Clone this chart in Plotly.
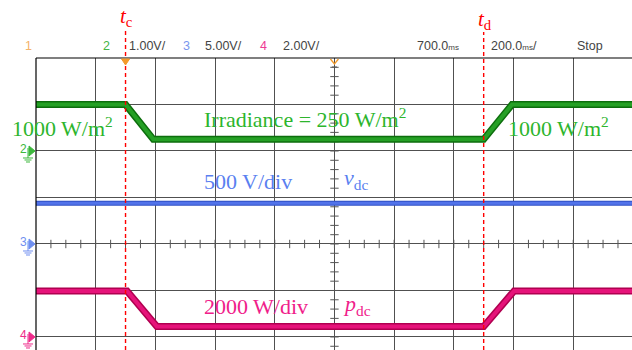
import plotly.graph_objects as go
import numpy as np

# ---------------- data (read from the scope capture) ----------------
t_irr = [0, 300, 393, 1500, 1595, 1997]          # ms
irr = [1000, 1000, 250, 250, 1000, 1000]          # W/m^2  (ch2, 1000 W/m^2 per div)
t_vdc = [0, 360, 380, 1545, 1565, 1997]           # ms
vdc = [438, 438, 430, 430, 438, 438]              # V      (ch3, 500 V/div)
t_pdc = [0, 305, 405, 1500, 1602, 1997]           # ms
pdc = [1980, 1980, 450, 450, 1980, 1980]          # W      (ch4, 2000 W/div)
tc, td = 300, 1500                                # event times, ms

W, H = 632, 350
ML, MT = 36, 58
PW, PH = W - ML, H - MT
XR = [0, 1997]
YR = [1.72, 8.0]          # screen in divisions (0 = bottom of scope screen)
G2, G3, G4 = 6, 4, 2      # channel ground levels (divisions)
S2, S3, S4 = 1000, 500, 2000  # units per division


def px(x):
    return (x - ML) / PW


def py(y):
    return (H - y) / PH


def tx(t):
    return (t - XR[0]) / (XR[1] - XR[0])


def rng(g, s):
    return [(YR[0] - g) * s, (YR[1] - g) * s]


fig = go.Figure()

# minor ticks on centre lines
vt = np.arange(YR[0] - YR[0] % 0.2 + 0.2, 8.0, 0.2)
fig.add_trace(go.Scatter(x=[1000] * len(vt), y=vt, mode="markers", yaxis="y",
                         marker=dict(symbol="line-ew", size=6, line=dict(width=1, color="#555")),
                         hoverinfo="skip", showlegend=False))
ht = np.arange(50, 1997, 50)
fig.add_trace(go.Scatter(x=ht, y=[4] * len(ht), mode="markers", yaxis="y",
                         marker=dict(symbol="line-ns", size=6, line=dict(width=1, color="#555")),
                         hoverinfo="skip", showlegend=False))

# channel traces
for xs, ys, ax, c_out, c_in, w_out, w_in in [
    (t_irr, irr, "y2", "#0d6e0d", "#25a025", 7, 4),
    (t_vdc, vdc, "y3", "#2f4fc4", "#5273ea", 5, 3),
    (t_pdc, pdc, "y4", "#b00050", "#e6137a", 7, 4),
]:
    fig.add_trace(go.Scatter(x=xs, y=ys, yaxis=ax, mode="lines",
                             line=dict(color=c_out, width=w_out), hoverinfo="skip", showlegend=False))
    fig.add_trace(go.Scatter(x=xs, y=ys, yaxis=ax, mode="lines",
                             line=dict(color=c_in, width=w_in), hoverinfo="skip", showlegend=False))

shapes = []
# borders
shapes.append(dict(type="line", xref="paper", yref="paper", x0=0, x1=1, y0=1, y1=1,
                   line=dict(color="#000", width=1.2)))
shapes.append(dict(type="line", xref="paper", yref="paper", x0=0, x1=0, y0=0, y1=1,
                   line=dict(color="#000", width=1.2)))
# event markers (dashed red)
for t, ytop in [(tc, 28), (td, 32)]:
    shapes.append(dict(type="line", xref="paper", yref="paper", x0=tx(t), x1=tx(t),
                       y0=0, y1=py(ytop), line=dict(color="#ff0000", width=1.4, dash="4px,3px")))
# trigger markers
xt = ML + tx(tc) * PW
shapes.append(dict(type="path", xref="paper", yref="paper",
                   path=f"M {px(xt-4)},{py(59)} L {px(xt+4)},{py(59)} L {px(xt)},{py(65)} Z",
                   fillcolor="#f39a2a", line=dict(color="#f39a2a", width=1)))
xm = ML + tx(1000) * PW
shapes.append(dict(type="path", xref="paper", yref="paper",
                   path=f"M {px(xm-4)},{py(59)} L {px(xm)},{py(64)} L {px(xm+4)},{py(59)}",
                   line=dict(color="#f39a2a", width=1.3)))
shapes.append(dict(type="line", xref="paper", yref="paper", x0=px(xm - 2.5), x1=px(xm + 2.5),
                   y0=py(67), y1=py(67), line=dict(color="#555", width=1)))

# channel ground markers at the left
annotations = []
for g, col, lab in [(G2, "#3cb83c", "2"), (G3, "#6f8ff0", "3"), (G4, "#ee2a8a", "4")]:
    yy = H - (g - YR[0]) / (YR[1] - YR[0]) * PH
    shapes.append(dict(type="path", xref="paper", yref="paper",
                       path=f"M {px(29)},{py(yy-5)} L {px(35)},{py(yy)} L {px(29)},{py(yy+5)} Z",
                       fillcolor=col, line=dict(color=col, width=1)))
    shapes.append(dict(type="line", xref="paper", yref="paper", x0=px(28), x1=px(28),
                       y0=py(yy - 3), y1=py(yy + 7), line=dict(color=col, width=1)))
    for dy, hw in [(7, 5), (9, 3.5), (11, 2)]:
        shapes.append(dict(type="line", xref="paper", yref="paper", x0=px(28 - hw), x1=px(28 + hw),
                           y0=py(yy + dy), y1=py(yy + dy), line=dict(color=col, width=1)))
    annotations.append(dict(text=lab, xref="paper", yref="paper", x=px(23), y=py(yy - 2),
                            xanchor="center", yanchor="middle", showarrow=False,
                            font=dict(family="Liberation Sans", size=12, color=col)))

# header line
hdr = [
    ("1", 28, "center", "#f4b36a"),
    ("2", 106, "center", "#44b444"),
    ("1.00V/", 127, "left", "#444"),
    ("3", 186, "center", "#7a96ee"),
    ("5.00V/", 203, "left", "#444"),
    ("4", 263, "center", "#ee3a94"),
    ("2.00V/", 281, "left", "#444"),
    ("700.0<span style='font-size:8px'>ms</span>", 415, "left", "#444"),
    ("200.0<span style='font-size:8px'>ms</span>/", 489, "left", "#444"),
    ("Stop", 575, "left", "#444"),
]
for txt, x, anc, col in hdr:
    annotations.append(dict(text=txt, xref="paper", yref="paper", x=px(x), y=py(46),
                            xanchor=anc, yanchor="middle", showarrow=False,
                            font=dict(family="Liberation Sans", size=12.5, color=col)))

serif = "Liberation Serif"
labels = [
    ("1000 W/m<sup>2</sup>", 10, 137, "#2db52d"),
    ("Irradiance = 250 W/m<sup>2</sup>", 202, 128, "#2db52d"),
    ("1000 W/m<sup>2</sup>", 506, 137, "#2db52d"),
    ("500 V/div", 202, 190, "#5a7ff0"),
    ("<i>v</i><sub>dc</sub>", 342, 189, "#5a7ff0"),
    ("2000 W/div", 202, 315, "#f0208a"),
    ("<i>p</i><sub>dc</sub>", 341, 315, "#f0208a"),
]
for txt, x, yb, col in labels:
    annotations.append(dict(text=txt, xref="paper", yref="paper", x=px(x), y=py(yb + 6),
                            xanchor="left", yanchor="bottom", showarrow=False,
                            font=dict(family=serif, size=22, color=col)))

for t, lab, yb in [(tc, "<i>t</i><sub>c</sub>", 26), (td, "<i>t</i><sub>d</sub>", 29)]:
    annotations.append(dict(text=lab, xref="paper", yref="paper", x=tx(t) + px(ML + 1) - px(ML),
                            y=py(yb + 6), xanchor="center", yanchor="bottom", showarrow=False,
                            font=dict(family=serif, size=21, color="#ff0000")))

hid = dict(visible=False, overlaying="y", fixedrange=True)
fig.update_layout(
    width=W, height=H, margin=dict(l=ML, r=0, t=MT, b=0),
    paper_bgcolor="white", plot_bgcolor="white",
    xaxis=dict(range=XR, dtick=200, tick0=0, showgrid=True, gridcolor="#505050", gridwidth=1,
               zeroline=False, showticklabels=False, ticks="", showline=False),
    yaxis=dict(range=YR, dtick=1, tick0=0, showgrid=True, gridcolor="#505050", gridwidth=1,
               zeroline=False, showticklabels=False, ticks="", showline=False),
    yaxis2=dict(range=rng(G2, S2), **hid),
    yaxis3=dict(range=rng(G3, S3), **hid),
    yaxis4=dict(range=rng(G4, S4), **hid),
    shapes=shapes, annotations=annotations, showlegend=False,
)
fig.write_html("out.html")
